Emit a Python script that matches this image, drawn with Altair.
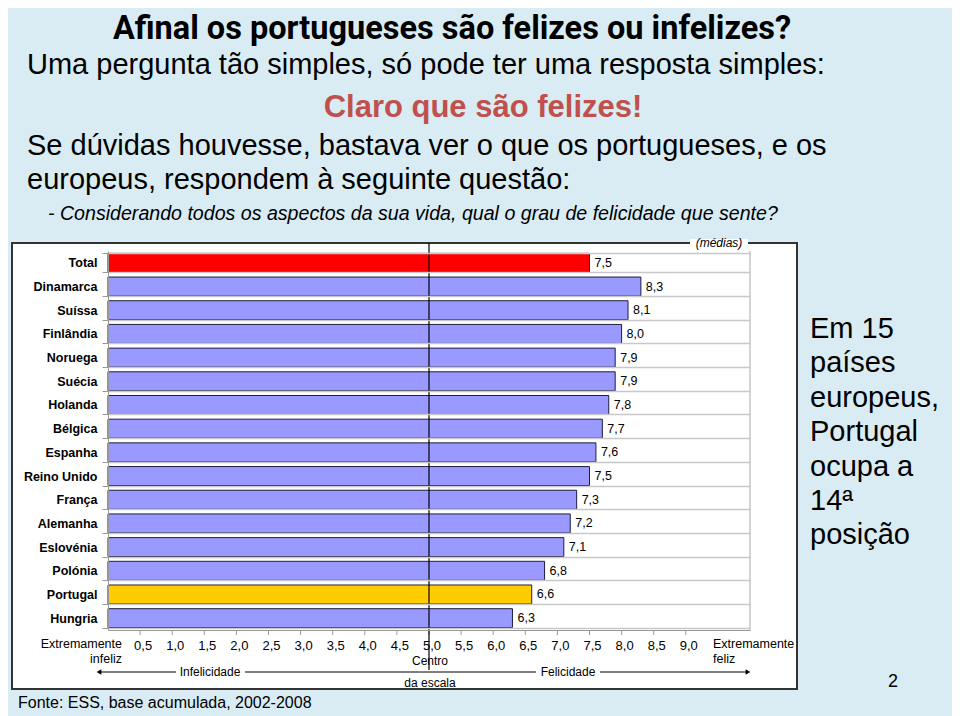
import altair as alt
import pandas as pd

# ---- data ----
paises = ["Total", "Dinamarca", "Suíssa", "Finlândia", "Noruega", "Suécia", "Holanda",
          "Bélgica", "Espanha", "Reino Unido", "França", "Alemanha", "Eslovénia",
          "Polónia", "Portugal", "Hungria"]
medias = [7.5, 8.3, 8.1, 8.0, 7.9, 7.9, 7.8, 7.7, 7.6, 7.5, 7.3, 7.2, 7.1, 6.8, 6.6, 6.3]
grupos = ["Total"] + ["País"] * 13 + ["Portugal", "País"]
ticks_x = [0.5, 1.0, 1.5, 2.0, 2.5, 3.0, 3.5, 4.0, 4.5, 5.0, 5.5, 6.0, 6.5, 7.0, 7.5, 8.0, 8.5, 9.0]
ticks_lbl = ["0,5", "1,0", "1,5", "2,0", "2,5", "3,0", "3,5", "4,0", "4,5", "5,0",
             "5,5", "6,0", "6,5", "7,0", "7,5", "8,0", "8,5", "9,0"]

df = pd.DataFrame({"pais": paises, "media": medias, "grupo": grupos})
df["rotulo"] = [f"{v:.1f}".replace(".", ",") for v in medias]
dticks = pd.DataFrame({"media": ticks_x, "lbl": ticks_lbl})

ARIAL = "Liberation Sans"
BG = "#d9ecf3"
one = pd.DataFrame({"k": [0]})


def txt(text, x, y, size, align="left", baseline="alphabetic", font=ARIAL, **kw):
    return alt.Chart(one).mark_text(
        text=text, align=align, baseline=baseline, font=font, fontSize=size, **kw
    ).encode(x=alt.value(x), y=alt.value(y))


def seg(x1, x2, y1, y2, color="black", width=1):
    return alt.Chart(one).mark_rule(color=color, strokeWidth=width).encode(
        x=alt.value(x1), x2=alt.value(x2), y=alt.value(y1), y2=alt.value(y2))


box = alt.Chart(one).mark_rect(fill="white", stroke="#333333", strokeWidth=2).encode(
    x=alt.value(-96), x2=alt.value(689), y=alt.value(-8), y2=alt.value(438))
gap = alt.Chart(one).mark_rect(fill="white").encode(
    x=alt.value(582), x2=alt.value(640), y=alt.value(-12), y2=alt.value(-4))

yenc = alt.Y("pais:N", sort=paises,
             scale=alt.Scale(paddingInner=0.2, paddingOuter=0.1),
             axis=alt.Axis(title=None, labelFont=ARIAL, labelFontWeight="bold",
                           labelFontSize=12.5, labelColor="black", domainColor="#999999",
                           tickColor="#999999", tickSize=6, tickBand="extent",
                           grid=True, gridColor="#c8c8c8", gridWidth=1.5,
                           labelPadding=5, zindex=1))
xscale = alt.Scale(domain=[0, 10], nice=False)
xenc = alt.X("media:Q", scale=xscale,
             axis=alt.Axis(title=None, labels=False, ticks=False, grid=False,
                           domainColor="#999999", zindex=1))

bars = alt.Chart(df).mark_bar(stroke="#1e1e40", strokeWidth=1).encode(
    y=yenc, x=xenc,
    color=alt.Color("grupo:N", legend=None,
                    scale=alt.Scale(domain=["Total", "País", "Portugal"],
                                    range=["#ff0000", "#9999ff", "#ffcc00"])))

labels = alt.Chart(df).mark_text(align="left", baseline="middle", dx=5,
                                 font=ARIAL, fontSize=12.5, color="black").encode(
    y=alt.Y("pais:N", sort=paises), x=alt.X("media:Q", scale=xscale), text="rotulo:N")

tick_marks = alt.Chart(dticks).mark_rule(color="#999999", strokeWidth=1).encode(
    x=alt.X("media:Q", scale=xscale), y=alt.value(379), y2=alt.value(384))
tick_text = alt.Chart(dticks).mark_text(font=ARIAL, fontSize=13, color="black",
                                        baseline="middle", align="center", dx=3).encode(
    x=alt.X("media:Q", scale=xscale), y=alt.value(395), text="lbl:N")

centro = alt.Chart(one).mark_rule(color="black", strokeWidth=1.2).encode(
    x=alt.datum(5), y=alt.value(-8), y2=alt.value(419))
direita = alt.Chart(one).mark_rule(color="#aaaaaa", strokeWidth=1).encode(
    x=alt.datum(10), y=alt.value(0), y2=alt.value(379))

arrow_l = alt.Chart(one).mark_point(shape="triangle-left", filled=True, color="black",
                                    size=30, opacity=1).encode(x=alt.value(-9), y=alt.value(421))
arrow_r = alt.Chart(one).mark_point(shape="triangle-right", filled=True, color="black",
                                    size=30, opacity=1).encode(x=alt.value(640), y=alt.value(421))

layers = [
    box, gap, bars, labels, tick_marks, tick_text, centro, direita,
    seg(-9, 68, 421, 421), seg(137, 428, 421, 421), seg(492, 640, 421, 421),
    arrow_l, arrow_r,
    txt("Extremamente", 14, 393, 12.5, align="right", baseline="middle"),
    txt("infeliz", 14, 408, 12.5, align="right", baseline="middle"),
    txt("Extremamente", 605, 393, 12.5, baseline="middle"),
    txt("feliz", 605, 408, 12.5, baseline="middle"),
    txt("Infelicidade", 102, 421, 12, align="center", baseline="middle"),
    txt("Felicidade", 460, 421, 12, align="center", baseline="middle"),
    txt("Centro", 322, 410, 12, align="center", baseline="middle"),
    txt("da escala", 322, 432, 12, align="center", baseline="middle"),
    txt("(médias)", 611, -8, 12, align="center", baseline="middle", fontStyle="italic"),
    # headings
    txt("Afinal os portugueses são felizes ou infelizes?", 344, -212.5, 32.5,
        align="center", font="Roboto", fontWeight="bold", color="black"),
    txt("Uma pergunta tão simples, só pode ter uma resposta simples:", -81, -177, 29),
    txt("Claro que são felizes!", 375, -134, 31, align="center", fontWeight="bold",
        color="#c0504d"),
    txt("Se dúvidas houvesse, bastava ver o que os portugueses, e os", -81, -96, 29),
    txt("europeus, respondem à seguinte questão:", -81, -62, 29),
    txt("- Considerando todos os aspectos da sua vida, qual o grau de felicidade que sente?",
        -60, -31, 19.6, fontStyle="italic"),
    txt(["Em 15", "países", "europeus,", "Portugal", "ocupa a", "14ª", "posição"],
        702, 87, 29, lineHeight=34.4),
    txt("Fonte: ESS, base acumulada, 2002-2008", -90, 457, 16),
    txt("2", 785, 431, 18, align="center", baseline="middle"),
]

chart = alt.layer(*layers).properties(
    width=642, height=379,
    padding={"left": 100, "top": 243, "right": 202, "bottom": 86},
    autosize=alt.AutoSizeParams(type="none"),
    background=BG,
).configure_view(stroke=None)

chart.save("out.html", embed_options={"renderer": "svg", "actions": False})
